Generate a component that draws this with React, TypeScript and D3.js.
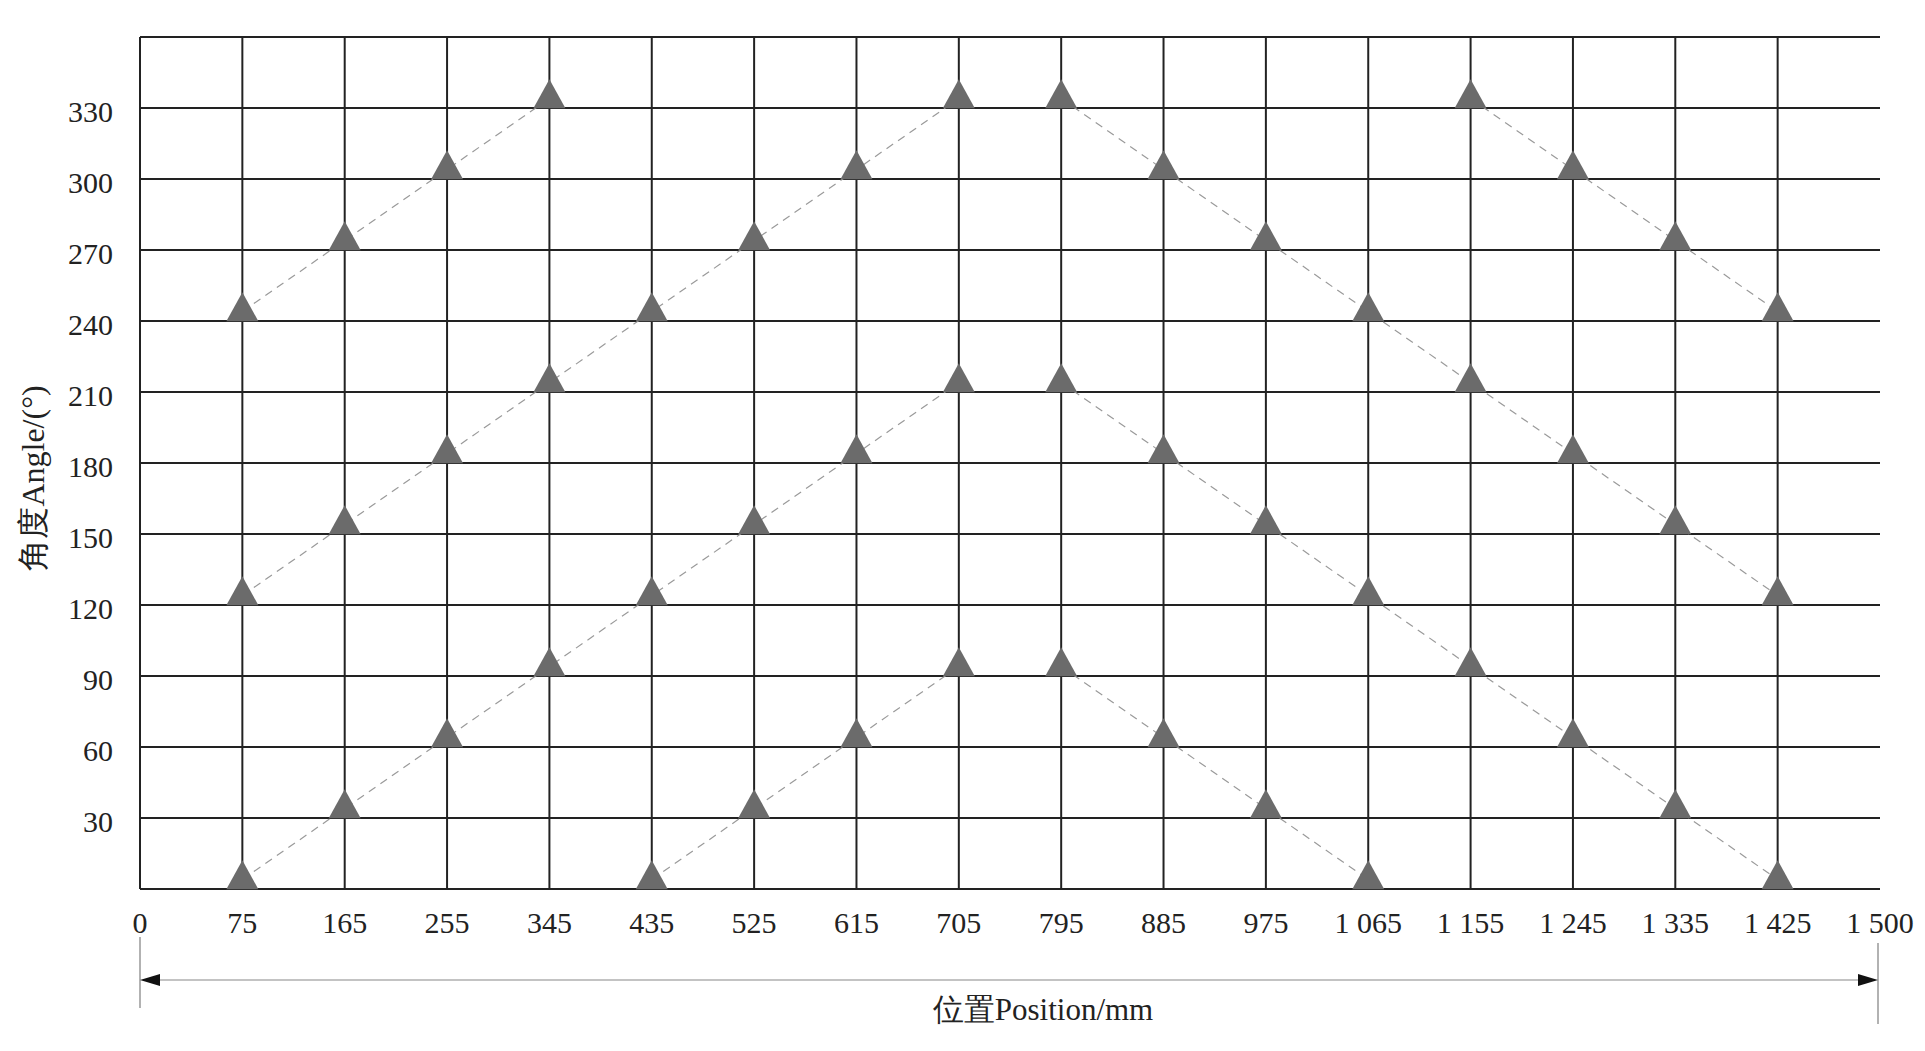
import React from "react";
import * as d3 from "d3";

// Tick categories (mm) along the x axis
const positionTicks = [0, 75, 165, 255, 345, 435, 525, 615, 705, 795, 885, 975, 1065, 1155, 1245, 1335, 1425, 1500];
const angleTicks = [30, 60, 90, 120, 150, 180, 210, 240, 270, 300, 330];

// Series (position mm, angle °)
const seriesA1X = [75, 165, 255, 345];
const seriesA1Y = [244, 274, 304, 334];
const seriesA2X = [75, 165, 255, 345, 435, 525, 615, 705];
const seriesA2Y = [124, 154, 184, 214, 244, 274, 304, 334];
const seriesA3X = [75, 165, 255, 345, 435, 525, 615, 705];
const seriesA3Y = [4, 34, 64, 94, 124, 154, 184, 214];
const seriesA4X = [435, 525, 615, 705];
const seriesA4Y = [4, 34, 64, 94];
const seriesD1X = [795, 885, 975, 1065, 1155, 1245, 1335, 1425];
const seriesD1Y = [334, 304, 274, 244, 214, 184, 154, 124];
const seriesD2X = [795, 885, 975, 1065, 1155, 1245, 1335, 1425];
const seriesD2Y = [214, 184, 154, 124, 94, 64, 34, 4];
const seriesD3X = [795, 885, 975, 1065];
const seriesD3Y = [94, 64, 34, 4];
const seriesD4X = [1155, 1245, 1335, 1425];
const seriesD4Y = [334, 304, 274, 244];

const seriesList = [
  [seriesA1X, seriesA1Y],
  [seriesA2X, seriesA2Y],
  [seriesA3X, seriesA3Y],
  [seriesA4X, seriesA4Y],
  [seriesD1X, seriesD1Y],
  [seriesD2X, seriesD2Y],
  [seriesD3X, seriesD3Y],
  [seriesD4X, seriesD4Y],
];

const xTitle = "位置Position/mm";
const yTitle = "角度Angle/(°)";

export default function App() {
  if (typeof document !== "undefined") {
    document.body.style.margin = "0";
    document.body.style.overflow = "hidden";
  }
  const W = 1925, H = 1051;
  const left = 140, right = 1880, top = 37, bottom = 889;
  const x = d3.scalePoint<number>().domain(positionTicks).range([left, right]).padding(0);
  const y = d3.scaleLinear().domain([0, 360]).range([bottom, top]);
  const fmt = d3.formatLocale({ decimal: ".", thousands: " ", grouping: [3], currency: ["", ""] }).format(",d");
  const line = d3.line<[number, number]>().x((d) => x(d[0]) as number).y((d) => y(d[1]));
  const font = "'Liberation Serif', 'Times New Roman', serif";
  const gridColor = "#222";
  const triW = 32, triH = 29;
  const tri = (cx: number, cy: number) =>
    `M${cx},${cy - (2 * triH) / 3}L${cx + triW / 2},${cy + triH / 3}L${cx - triW / 2},${cy + triH / 3}Z`;

  const arrowY = 980;
  return (
    <svg width={W} height={H} style={{ position: "absolute", left: 0, top: 0, background: "#fff" }}>
      <rect x={0} y={0} width={W} height={H} fill="#fff" />
      {/* horizontal grid */}
      {[0, ...angleTicks, 360].map((v) => (
        <line key={"h" + v} x1={left} x2={right} y1={y(v)} y2={y(v)} stroke={gridColor} strokeWidth={2} />
      ))}
      {/* vertical grid (no right border) */}
      {positionTicks.slice(0, -1).map((p) => (
        <line key={"v" + p} x1={x(p)} x2={x(p)} y1={top} y2={bottom} stroke={gridColor} strokeWidth={2} />
      ))}
      {/* dashed connectors */}
      {seriesList.map(([xs, ys], i) => (
        <path
          key={"s" + i}
          d={line(xs.map((v, j) => [v, ys[j]] as [number, number])) || ""}
          fill="none"
          stroke="#9a9a9a"
          strokeWidth={1.2}
          strokeDasharray="8,6"
        />
      ))}
      {/* triangles */}
      {seriesList.map(([xs, ys], i) =>
        xs.map((v, j) => <path key={`t${i}-${j}`} d={tri(x(v) as number, y(ys[j]))} fill="#6b6b6b" />)
      )}
      {/* y tick labels */}
      {angleTicks.map((v) => (
        <text key={"yl" + v} x={113} y={y(v) + 14} textAnchor="end" fontFamily={font} fontSize={30} fill="#222">
          {v}
        </text>
      ))}
      {/* x tick labels */}
      {positionTicks.map((p) => (
        <text key={"xl" + p} x={x(p)} y={933} textAnchor="middle" fontFamily={font} fontSize={30} fill="#222">
          {fmt(p)}
        </text>
      ))}
      {/* dimension arrow */}
      <line x1={left} x2={left} y1={937} y2={1008} stroke="#999" strokeWidth={1.5} />
      <line x1={1878} x2={1878} y1={943} y2={1024} stroke="#999" strokeWidth={1.5} />
      <line x1={left + 10} x2={1868} y1={arrowY} y2={arrowY} stroke="#888" strokeWidth={1.2} />
      <path d={`M${left},${arrowY}L${left + 20},${arrowY - 6}L${left + 20},${arrowY + 6}Z`} fill="#111" />
      <path d={`M1878,${arrowY}L1858,${arrowY - 6}L1858,${arrowY + 6}Z`} fill="#111" />
      {/* axis titles */}
      <text x={1043} y={1020} textAnchor="middle" fontFamily={font} fontSize={31} fill="#222">
        {xTitle}
      </text>
      <text
        transform={`translate(44,478) rotate(-90)`}
        textAnchor="middle"
        fontFamily={font}
        fontSize={32}
        fill="#222"
      >
        {yTitle}
      </text>
    </svg>
  );
}
